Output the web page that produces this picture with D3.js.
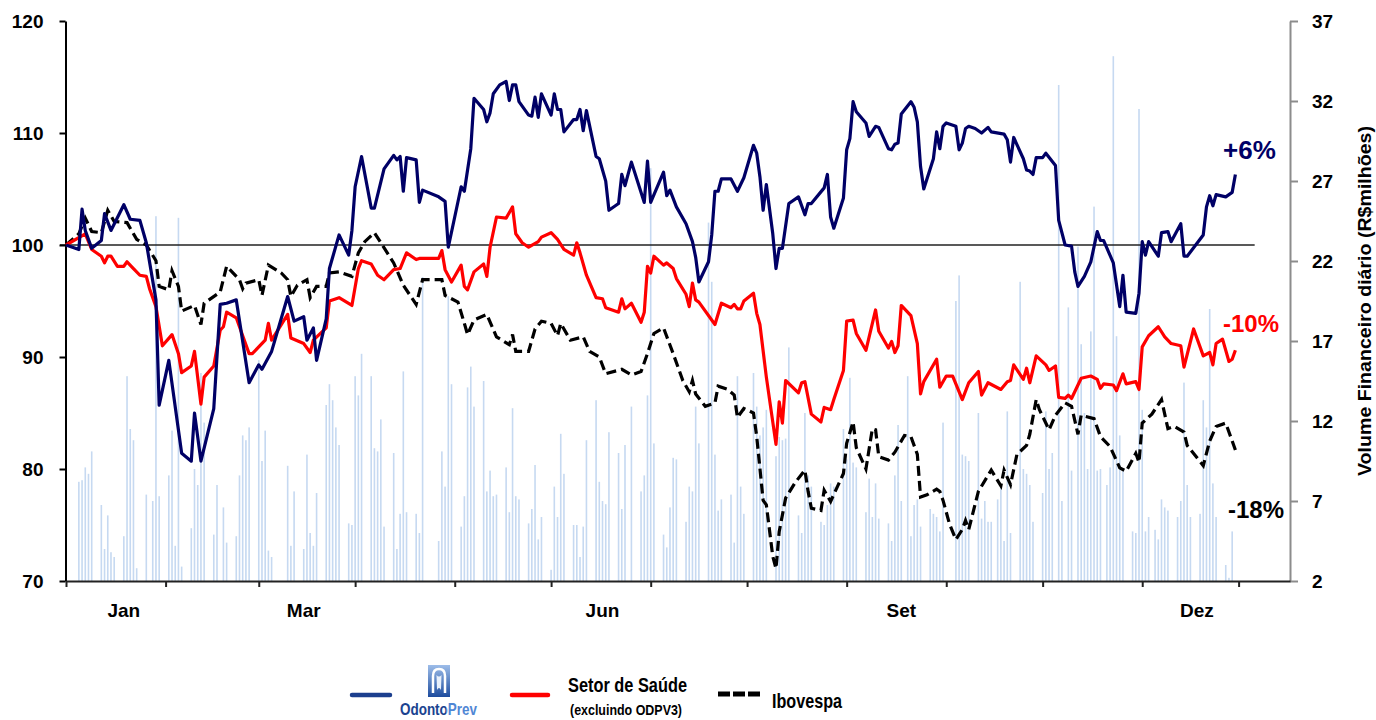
<!DOCTYPE html>
<html>
<head>
<meta charset="utf-8">
<script src="https://cdnjs.cloudflare.com/ajax/libs/d3/7.8.5/d3.min.js"></script>
<style>
  body { margin: 0; background: #fff; }
  svg text { font-family: Arial, "Liberation Sans", sans-serif; }
  .axis text { font-size: 19px; font-weight: bold; fill: #000; }
</style>
</head>
<body>
<div id="chart"></div>
<script>
// base date (index = 100); every series point is [days since base, value]
const baseDay = '2010-12-30';
const endDay = '2012-01-15';

const odontoPrev = [[0,100],[4,99.6],[5,103.2],[6,101.3],[8,99.7],[11,100.4],[12,102.8],[14,101.3],[18,103.6],[20,102.3],[23,102.2],[25,100.2],[28,95.1],[29,85.7],[32,89.7],[36,81.4],[39,80.7],[40,85.0],[42,80.7],[46,85.4],[48,94.7],[50,94.8],[53,95.1],[57,87.7],[60,89.3],[61,88.9],[64,90.5],[69,95.4],[71,93.2],[74,93.6],[75,91.5],[77,92.6],[78,89.7],[81,93.4],[82,97.9],[85,100.9],[88,99.1],[89,101.3],[90,105.2],[92,107.9],[95,103.3],[96,103.3],[99,106.8],[102,108.0],[103,107.6],[104,107.9],[105,104.8],[106,107.8],[109,107.6],[110,103.8],[111,104.9],[116,104.3],[118,103.9],[119,99.8],[123,105.2],[124,104.8],[126,108.6],[127,113.1],[130,112.1],[131,111.0],[132,111.8],[133,113.5],[135,114.3],[137,114.6],[138,112.9],[139,114.3],[140,114.3],[141,112.8],[144,111.6],[145,111.5],[146,113.2],[147,111.4],[148,113.5],[151,111.6],[152,113.5],[153,112.1],[154,112.1],[155,110.1],[158,111.2],[159,111.2],[160,112.1],[161,110.2],[162,112.0],[165,107.9],[166,107.7],[168,105.7],[169,103.1],[172,103.7],[173,106.3],[174,105.3],[176,107.4],[180,103.8],[181,107.5],[182,103.8],[186,106.5],[187,104.4],[188,104.9],[190,103.4],[193,101.9],[195,100.3],[196,98.9],[197,96.7],[200,98.5],[201,100.9],[202,104.8],[203,104.8],[204,105.9],[207,105.9],[209,104.8],[211,106.0],[214,108.9],[215,108.2],[216,106.1],[217,103.1],[218,105.4],[220,101.0],[221,97.9],[222,99.7],[223,99.7],[225,103.7],[228,104.3],[230,102.7],[231,103.7],[232,103.7],[236,105.1],[237,106.3],[238,102.5],[239,101.5],[242,104.2],[243,108.5],[244,109.5],[245,112.8],[246,111.9],[249,110.9],[250,109.7],[252,110.6],[253,110.5],[256,108.6],[257,108.5],[258,109.0],[259,109.1],[260,111.7],[263,112.8],[264,112.3],[265,111.0],[266,107.0],[267,105.0],[270,107.7],[271,110.1],[272,108.6],[273,110.6],[274,110.9],[277,110.6],[278,108.5],[279,109.1],[280,110.4],[281,110.6],[283,110.4],[285,110.0],[287,110.5],[288,110.1],[292,109.9],[293,109.4],[294,107.4],[295,109.6],[298,107.7],[299,106.7],[300,106.6],[301,106.3],[302,107.8],[304,107.8],[305,108.2],[308,107.1],[309,102.2],[311,100.0],[313,99.9],[314,97.6],[315,96.3],[317,97.2],[319,98.5],[321,101.2],[322,100.4],[323,100.4],[326,98.4],[328,94.5],[329,97.3],[330,94.0],[333,93.9],[334,95.7],[335,100.3],[336,99.1],[337,100.3],[340,99.0],[341,101.1],[343,101.2],[344,100.3],[347,101.9],[348,99.0],[349,99.0],[354,100.9],[355,103.4],[356,104.4],[357,103.5],[358,104.5],[361,104.3],[363,104.7],[364,106.3]];

const setorSaude = [[0,100],[6,101.0],[8,99.6],[11,99.0],[12,98.4],[13,99.0],[14,99.0],[16,98.1],[18,98.1],[19,98.5],[21,97.9],[23,97.3],[25,97.2],[26,96.1],[28,94.5],[30,91.0],[33,92.0],[35,90.3],[36,88.6],[39,89.2],[40,90.5],[42,85.8],[43,88.2],[46,89.2],[48,92.4],[49,92.7],[50,94.0],[53,93.5],[55,91.9],[57,90.3],[58,90.3],[62,91.5],[63,93.0],[64,91.5],[69,93.8],[70,91.7],[74,91.2],[76,90.4],[77,91.5],[81,92.6],[82,95.0],[85,95.3],[89,94.6],[91,97.9],[92,98.6],[95,98.3],[97,97.3],[99,96.9],[102,97.8],[104,97.9],[106,99.3],[109,98.7],[110,98.8],[116,98.8],[117,99.5],[118,97.8],[120,96.7],[123,98.2],[124,96.3],[125,96.0],[127,97.6],[130,98.3],[131,97.2],[132,99.8],[134,102.5],[137,102.4],[139,103.4],[140,101.0],[142,100.2],[144,99.8],[147,100.3],[148,100.7],[151,101.1],[153,100.5],[155,99.6],[158,99.1],[159,100.2],[160,99.3],[162,97.3],[165,95.3],[167,95.2],[168,94.4],[172,94.0],[173,95.2],[174,94.3],[176,94.8],[179,93.1],[180,94.0],[181,98.1],[182,97.5],[183,99.0],[186,98.2],[187,98.4],[189,97.9],[190,97.0],[193,95.6],[194,94.5],[195,96.6],[196,95.1],[197,94.9],[202,92.9],[204,94.8],[207,94.4],[208,94.7],[209,94.3],[210,94.3],[211,95.0],[214,95.7],[215,93.9],[216,92.9],[218,88.2],[221,82.2],[222,86.0],[223,84.1],[224,87.9],[228,86.8],[229,87.7],[230,87.8],[232,84.9],[235,84.2],[236,85.5],[238,85.3],[239,86.2],[242,88.8],[243,93.2],[245,93.3],[246,92.1],[249,90.6],[252,94.2],[253,92.3],[256,90.8],[257,91.4],[258,90.4],[259,91.0],[260,94.6],[263,93.7],[265,91.2],[266,86.7],[267,87.8],[271,89.8],[272,87.3],[274,88.3],[276,88.3],[279,86.2],[281,87.7],[284,88.7],[285,86.6],[287,87.7],[291,87.1],[293,87.8],[294,87.9],[295,89.3],[298,88.0],[299,89.0],[300,87.7],[302,90.1],[305,89.3],[306,88.8],[308,89.2],[309,86.4],[311,86.3],[312,86.6],[313,86.3],[316,88.1],[319,88.3],[321,88.0],[322,87.2],[323,87.6],[326,87.5],[327,87.0],[329,88.5],[330,87.6],[333,87.8],[334,87.1],[335,90.9],[337,91.9],[340,92.7],[342,91.8],[344,91.2],[347,91.0],[348,89.1],[351,92.5],[354,90.1],[356,90.4],[357,89.3],[358,91.2],[360,91.6],[362,89.6],[363,89.8],[364,90.6]];

const ibovespa = [[0,100],[4,101.0],[6,102.4],[8,101.2],[11,101.1],[13,103.1],[15,102.1],[19,102.0],[22,100.5],[25,100.0],[28,98.6],[29,96.3],[32,96.0],[33,97.7],[35,96.3],[36,94.1],[40,94.6],[42,92.9],[43,94.8],[48,95.8],[50,98.1],[54,96.9],[55,96.1],[56,96.6],[60,96.9],[61,95.5],[63,98.2],[67,97.5],[69,96.9],[70,95.4],[72,96.4],[75,96.9],[76,95.3],[78,96.3],[81,96.3],[82,97.5],[85,97.6],[89,97.2],[91,99.3],[93,100.3],[96,101.1],[98,100.2],[102,98.4],[105,96.4],[109,94.7],[111,96.9],[117,96.9],[118,95.5],[122,94.9],[124,93.0],[125,92.0],[127,93.3],[131,93.8],[134,91.8],[138,91.1],[139,92.0],[140,90.5],[144,90.5],[146,92.5],[148,93.2],[151,93.0],[153,91.9],[154,93.0],[157,91.5],[161,91.8],[163,90.5],[166,90.0],[168,88.5],[173,88.9],[176,88.4],[179,88.7],[181,90.3],[183,92.1],[186,92.6],[189,90.3],[192,87.9],[194,86.9],[195,87.9],[196,86.7],[199,85.6],[202,85.9],[203,87.4],[206,87.1],[208,86.6],[209,84.6],[211,85.4],[214,85.0],[215,82.9],[217,77.2],[218,76.8],[220,72.2],[221,71.1],[222,74.4],[224,77.4],[227,78.8],[230,79.9],[231,78.0],[232,76.5],[235,76.3],[236,78.1],[238,77.1],[242,79.6],[243,82.3],[245,84.2],[246,81.9],[249,80.0],[251,83.6],[252,83.5],[253,81.1],[256,80.8],[258,81.5],[261,83.0],[263,82.9],[265,81.3],[266,77.5],[268,77.7],[271,78.2],[272,78.0],[273,77.2],[275,75.1],[277,73.7],[279,74.6],[280,75.4],[281,74.6],[284,78.0],[288,79.9],[291,78.5],[292,79.9],[294,78.6],[296,81.3],[299,82.1],[300,83.1],[302,86.2],[303,85.3],[306,83.5],[308,84.8],[311,85.9],[313,85.6],[315,83.1],[316,84.8],[320,84.5],[322,82.9],[325,82.0],[328,80.1],[330,79.8],[333,81.4],[334,80.6],[335,84.1],[338,84.9],[341,86.2],[343,83.6],[345,83.8],[348,83.3],[349,82.1],[354,80.3],[356,82.5],[358,83.8],[361,84.1],[364,81.7]];

// daily traded volume, R$ millions
const volume = [[0,10.4],[4,8.2],[5,8.3],[6,9.1],[7,8.7],[8,10.1],[11,6.75],[12,4.0],[13,6.1],[14,3.8],[15,3.5],[18,4.8],[19,14.8],[20,11.5],[21,10.8],[22,2.8],[25,7.4],[27,7.0],[28,24.8],[29,7.3],[32,8.6],[33,11.4],[34,4.2],[35,24.7],[36,2.9],[39,5.3],[40,9.0],[41,8.0],[42,15.0],[43,11.9],[46,4.9],[47,8.0],[49,6.6],[50,4.4],[53,4.8],[54,8.6],[55,11.1],[56,10.8],[57,11.6],[60,15.8],[61,9.5],[62,11.4],[63,3.9],[64,3.5],[69,9.2],[70,4.2],[71,7.6],[74,4.0],[75,9.9],[76,5.0],[77,4.2],[78,7.5],[81,13.0],[82,14.3],[83,13.3],[84,11.6],[85,10.5],[88,5.6],[89,5.5],[90,14.8],[91,13.6],[92,16.2],[95,14.8],[96,10.3],[97,10.1],[98,12.1],[99,5.4],[102,10.0],[103,4.0],[104,6.2],[105,15.1],[106,6.3],[109,6.2],[110,5.0],[111,21.0],[116,4.5],[117,10.1],[118,7.9],[119,19.8],[120,14.3],[123,5.4],[124,7.3],[125,14.1],[126,15.4],[127,12.9],[130,14.5],[131,7.6],[132,8.9],[133,7.3],[134,7.4],[137,9.1],[138,6.3],[139,12.8],[140,7.3],[141,7.1],[144,5.6],[145,6.5],[146,9.25],[147,4.6],[148,6.0],[151,2.7],[152,7.9],[153,6.0],[154,11.2],[155,8.7],[158,5.5],[159,5.5],[160,3.5],[161,5.4],[162,10.8],[165,13.3],[166,8.2],[167,7.0],[168,6.8],[169,11.3],[172,10.0],[173,6.5],[174,10.5],[176,12.9],[179,7.6],[180,8.6],[181,13.6],[182,27.8],[183,10.6],[186,4.9],[187,4.1],[188,6.6],[189,9.7],[190,9.6],[193,5.7],[194,7.9],[195,7.6],[196,12.9],[197,10.6],[200,24.4],[201,20.7],[202,9.9],[203,6.4],[204,7.1],[207,7.4],[208,4.4],[209,14.8],[210,7.9],[211,6.2],[214,15.0],[215,12.9],[216,11.1],[217,11.6],[218,12.7],[221,9.8],[222,11.0],[223,10.8],[224,10.9],[225,16.6],[228,6.1],[229,5.0],[230,12.5],[231,8.6],[232,7.9],[235,5.7],[236,5.5],[237,6.75],[238,8.1],[239,7.9],[242,11.5],[243,9.6],[244,14.7],[245,9.4],[246,9.1],[249,6.3],[250,8.4],[251,6.0],[252,8.1],[253,5.9],[256,5.6],[257,4.5],[258,8.6],[259,11.75],[260,7.0],[262,14.8],[263,4.8],[264,6.75],[265,7.1],[266,5.4],[269,6.5],[270,6.2],[271,6.0],[272,5.1],[273,11.9],[277,19.5],[278,21.1],[279,9.9],[280,9.8],[281,9.5],[284,12.5],[285,5.9],[286,7.0],[287,5.7],[288,5.7],[290,7.1],[291,8.0],[292,4.5],[293,12.6],[294,5.0],[297,20.7],[298,9.0],[299,8.7],[300,8.0],[301,5.7],[304,7.5],[305,12.6],[306,9.0],[307,10.0],[309,33.0],[310,7.0],[312,19.1],[313,8.9],[315,22.9],[316,16.8],[317,12.5],[318,9.0],[319,17.6],[320,25.4],[321,8.9],[322,9.0],[324,8.0],[325,9.1],[326,34.8],[327,17.3],[328,11.1],[329,9.0],[332,5.1],[333,5.0],[334,31.5],[335,12.7],[336,5.1],[337,6.0],[339,5.2],[340,4.6],[341,7.1],[342,6.6],[343,6.4],[346,6.0],[347,7.0],[348,14.4],[349,8.0],[350,6.0],[353,6.2],[354,13.3],[355,11.6],[356,19.0],[357,8.1],[358,6.0],[361,3.0],[362,2.2],[363,5.1]];

const leftTicks = [70, 80, 90, 100, 110, 120];
const rightTicks = [2, 7, 12, 17, 22, 27, 32, 37];
const monthTickDates = ['2010-12-30','2011-01-30','2011-02-28','2011-03-30','2011-04-30','2011-05-30','2011-06-30','2011-07-30','2011-08-30','2011-09-30','2011-10-30','2011-11-30','2011-12-30'];
const monthLabels = ['Jan', 'Mar', 'Jun', 'Set', 'Dez'];
const monthLabelDates = ['2011-01-17','2011-03-14','2011-06-15','2011-09-16','2011-12-17'];
const endLabels = ['+6%', '-10%', '-18%'];

class PerformanceChart {
    constructor(_config) {
        this.config = {
            parentElement: _config.parentElement,
            containerWidth: _config.containerWidth || 1376,
            containerHeight: _config.containerHeight || 720,
            margin: _config.margin || { top: 21, right: 86, bottom: 139, left: 66 }
        };
        this.initVis();
    }

    initVis() {
        let vis = this;
        const m = vis.config.margin;
        vis.width = vis.config.containerWidth - m.left - m.right;
        vis.height = vis.config.containerHeight - m.top - m.bottom;

        vis.svg = d3.select(vis.config.parentElement)
            .append('svg')
            .attr('width', vis.config.containerWidth)
            .attr('height', vis.config.containerHeight);
        vis.defs = vis.svg.append('defs');

        const parse = d3.timeParse('%Y-%m-%d');
        const base = parse(baseDay);
        vis.toDate = d => d3.timeDay.offset(base, d);

        // Scales
        vis.xScale = d3.scaleTime()
            .domain([base, parse(endDay)])
            .range([m.left, m.left + vis.width]);
        vis.yScale = d3.scaleLinear()
            .domain([70, 120])
            .range([m.top + vis.height, m.top]);
        vis.yVolScale = d3.scaleLinear()
            .domain([2, 37])
            .range([m.top + vis.height, m.top]);

        const bottom = m.top + vis.height;

        // Volume bars (background)
        vis.svg.append('g').selectAll('rect')
            .data(volume)
            .join('rect')
            .attr('x', d => vis.xScale(vis.toDate(d[0])) - 0.8)
            .attr('width', 1.6)
            .attr('y', d => vis.yVolScale(d[1]))
            .attr('height', d => bottom - vis.yVolScale(d[1]))
            .attr('fill', '#c6d9f1');

        // Base 100 reference line
        vis.svg.append('line')
            .attr('x1', m.left - 6)
            .attr('x2', vis.xScale(parse('2012-01-04')))
            .attr('y1', vis.yScale(100))
            .attr('y2', vis.yScale(100))
            .attr('stroke', '#222')
            .attr('stroke-width', 1.5);

        // Axes
        const yAxis = d3.axisLeft(vis.yScale).tickValues(leftTicks).tickSize(6).tickSizeOuter(0).tickPadding(16);
        const gy = vis.svg.append('g').attr('class', 'axis')
            .attr('transform', `translate(${m.left - 0.5},0)`)
            .call(yAxis);
        gy.selectAll('path, line').attr('stroke', '#000').attr('stroke-width', 2);

        const yVolAxis = d3.axisRight(vis.yVolScale).tickValues(rightTicks).tickSize(8).tickSizeOuter(0).tickPadding(14);
        const gv = vis.svg.append('g').attr('class', 'axis')
            .attr('transform', `translate(${m.left + vis.width},0)`)
            .call(yVolAxis);
        gv.selectAll('path, line').attr('stroke', '#8c8c8c').attr('stroke-width', 2);

        const xAxis = d3.axisBottom(vis.xScale)
            .tickValues(monthTickDates.map(parse))
            .tickSize(6).tickSizeOuter(0).tickFormat('');
        const gx = vis.svg.append('g').attr('class', 'axis')
            .attr('transform', `translate(0,${bottom})`)
            .call(xAxis);
        gx.selectAll('path, line').attr('stroke', '#222').attr('stroke-width', 2);

        gx.selectAll('.month-label')
            .data(monthLabels)
            .join('text')
            .attr('class', 'month-label')
            .attr('x', (d, i) => vis.xScale(parse(monthLabelDates[i])))
            .attr('y', 36)
            .attr('text-anchor', 'middle')
            .text(d => d);

        // Right axis title
        vis.svg.append('text')
            .attr('transform', `translate(1371,${m.top + vis.height / 2}) rotate(-90)`)
            .attr('text-anchor', 'middle')
            .attr('font-size', 19)
            .attr('font-weight', 'bold')
            .attr('textLength', 350)
            .attr('lengthAdjust', 'spacingAndGlyphs')
            .text('Volume Financeiro diário (R$milhões)');

        // Lines
        const line = d3.line()
            .x(d => vis.xScale(vis.toDate(d[0])))
            .y(d => vis.yScale(d[1]));

        vis.svg.append('path')
            .datum(ibovespa)
            .attr('d', line)
            .attr('fill', 'none')
            .attr('stroke', '#000')
            .attr('stroke-width', 3.2)
            .attr('stroke-dasharray', '10,5');

        vis.svg.append('path')
            .datum(setorSaude)
            .attr('d', line)
            .attr('fill', 'none')
            .attr('stroke', '#ff0000')
            .attr('stroke-width', 3.2)
            .attr('stroke-linejoin', 'round');

        vis.svg.append('path')
            .datum(odontoPrev)
            .attr('d', line)
            .attr('fill', 'none')
            .attr('stroke', '#000066')
            .attr('stroke-width', 3.2)
            .attr('stroke-linejoin', 'round');

        // End-of-year performance labels
        const labelG = vis.svg.append('g')
            .attr('font-weight', 'bold');
        labelG.append('text').attr('x', 1223).attr('y', 159).attr('font-size', 26).attr('fill', '#000066').text(endLabels[0]);
        labelG.append('text').attr('x', 1223).attr('y', 332).attr('font-size', 24).attr('fill', '#ff0000').text(endLabels[1]);
        labelG.append('text').attr('x', 1228).attr('y', 518).attr('font-size', 24).attr('fill', '#000').text(endLabels[2]);

        vis.drawLegend();
    }

    drawLegend() {
        let vis = this;
        const lg = vis.svg.append('g').attr('class', 'legend');

        // OdontoPrev
        lg.append('line').attr('x1', 352).attr('x2', 390).attr('y1', 695).attr('y2', 695)
            .attr('stroke', '#1c3f8e').attr('stroke-width', 4.5).attr('stroke-linecap', 'round');

        const grad = vis.defs.append('linearGradient')
            .attr('id', 'logoGrad').attr('x1', 0).attr('y1', 0).attr('x2', 0).attr('y2', 1);
        grad.append('stop').attr('offset', '0%').attr('stop-color', '#9dbde9');
        grad.append('stop').attr('offset', '100%').attr('stop-color', '#1d4c9e');

        lg.append('rect').attr('x', 428).attr('y', 665).attr('width', 22).attr('height', 32)
            .attr('fill', 'url(#logoGrad)');
        lg.append('path')
            .attr('d', 'M433,693 L433,676 Q433,669 439,669 Q445,669 445,676 L445,693')
            .attr('fill', 'none').attr('stroke', '#fff').attr('stroke-width', 2.5);
        lg.append('path')
            .attr('d', 'M436.5,675 Q439,678 441.5,675 L441,690 Q439,686 437,690 Z')
            .attr('fill', '#e8f0fb');

        // wordmark: one text, two-tone via a hard-stop gradient ("Odonto" dark, "Prev" light)
        const wordGrad = vis.defs.append('linearGradient')
            .attr('id', 'wordGrad').attr('gradientUnits', 'userSpaceOnUse')
            .attr('x1', 400).attr('x2', 477).attr('y1', 0).attr('y2', 0);
        wordGrad.append('stop').attr('offset', '0.6').attr('stop-color', '#1c428f');
        wordGrad.append('stop').attr('offset', '0.6').attr('stop-color', '#4f86d4');
        lg.append('text')
            .attr('x', 400).attr('y', 715)
            .attr('font-size', 17).attr('font-weight', 'bold')
            .attr('fill', 'url(#wordGrad)')
            .attr('textLength', 77).attr('lengthAdjust', 'spacingAndGlyphs')
            .text('OdontoPrev');

        // Setor de Saúde
        lg.append('line').attr('x1', 512).attr('x2', 548).attr('y1', 695).attr('y2', 695)
            .attr('stroke', '#ff0000').attr('stroke-width', 4.5).attr('stroke-linecap', 'round');
        lg.append('text')
            .attr('x', 568).attr('y', 692)
            .attr('font-size', 21).attr('font-weight', 'bold')
            .attr('textLength', 119).attr('lengthAdjust', 'spacingAndGlyphs')
            .text('Setor de Saúde');
        lg.append('text')
            .attr('x', 570).attr('y', 715)
            .attr('font-size', 15).attr('font-weight', 'bold')
            .attr('textLength', 112).attr('lengthAdjust', 'spacingAndGlyphs')
            .text('(excluindo ODPV3)');

        // Ibovespa
        lg.append('line').attr('x1', 718).attr('x2', 760).attr('y1', 694).attr('y2', 694)
            .attr('stroke', '#000').attr('stroke-width', 5).attr('stroke-dasharray', '12,3');
        lg.append('text')
            .attr('x', 772).attr('y', 708)
            .attr('font-size', 21).attr('font-weight', 'bold')
            .attr('textLength', 70).attr('lengthAdjust', 'spacingAndGlyphs')
            .text('Ibovespa');
    }
}

const chart = new PerformanceChart({ parentElement: '#chart' });
</script>
</body>
</html>
